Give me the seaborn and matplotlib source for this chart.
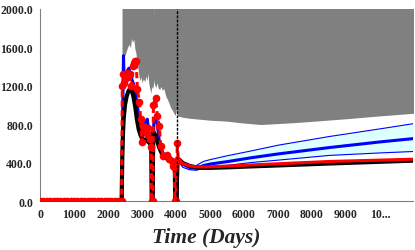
import numpy as np
import pandas as pd
import matplotlib
matplotlib.use("Agg")
import matplotlib.pyplot as plt
import seaborn as sns

# observed rate (red, with markers), history period
obs_days = [0, 100, 200, 300, 400, 500, 600, 700, 800, 900, 1000, 1100, 1200,
            1300, 1400, 1500, 1600, 1700, 1800, 1900, 2000, 2100, 2200, 2300,
            2380, 2402, 2420, 2450, 2480, 2510, 2550, 2600, 2640, 2690, 2740,
            2765, 2800, 2830, 2863, 2922, 2960, 2990, 3040, 3090, 3140, 3186,
            3235, 3270, 3284, 3320, 3335, 3400, 3451, 3510, 3549, 3627, 3725,
            3804, 3873, 3922, 3950, 3970, 4000, 4040, 4070]
obs_rate = [0, 0, 0, 0, 0, 0, 0, 0, 0, 0, 0, 0, 0,
            0, 0, 0, 0, 0, 0, 0, 0, 0, 0, 0,
            0, 0, 1195, 1316, 1230, 1264, 1330, 1290, 1320, 1195, 1400,
            1437, 1455, 1450, 1160, 1025, 850, 610, 780, 740, 700, 760,
            642, 560, 0, 0, 1000, 1075, 884, 780, 573, 470, 480,
            435, 418, 366, 350, 0, 0, 608, 418]

# prediction of the base case (red, no markers)
pred_days = [4070, 4100, 4200, 4400, 4600, 5000, 6200, 8500, 11000]
pred_rate = [418, 420, 390, 365, 355, 355, 375, 411, 435]

# simulation: history match (black) and ensemble mean (thick blue)
sim_days = [0, 2400, 2420, 2440, 2460, 2500, 2550, 2600, 2650, 2700, 2750,
            2800, 2850, 2900, 2950, 3000, 3050, 3140, 3200, 3270, 3285, 3310,
            3330, 3400, 3500, 3600, 3700, 3800, 3900, 3965, 3975, 4015, 4040,
            4100, 4200, 4400, 4600, 4800, 5000, 5500, 6200, 7000, 8500, 10000,
            11000]
sim_black = [0, 0, 450, 700, 850, 1000, 1090, 1140, 1170, 1150, 1080,
             980, 850, 750, 690, 650, 640, 630, 610, 580, 0, 0,
             720, 680, 560, 480, 450, 420, 400, 390, 0, 0, 440,
             430, 395, 365, 350, 345, 345, 350, 360, 370, 390, 408,
             420]
sim_mean = [0, 0, 1000, 1510, 1250, 1300, 1350, 1380, 1300, 1250, 1200,
            1100, 1000, 820, 700, 680, 800, 850, 680, 600, 0, 0,
            800, 900, 600, 500, 460, 430, 410, 400, 0, 0, 440,
            420, 380, 345, 340, 370, 385, 410, 450, 490, 556, 615,
            650]

# ensemble band (light cyan between thin blue lines)
band_days = [4040, 4100, 4200, 4400, 4600, 4800, 5000, 5500, 6200, 7000,
             8500, 10000, 11000]
band_lo = [430, 400, 350, 325, 320, 340, 350, 370, 400, 425, 474, 500, 515]
band_hi = [450, 430, 390, 360, 370, 411, 430, 470, 520, 580, 670, 750, 805]

# outer envelope (grey)
env_days = [2412, 2440, 2470, 2500, 2540, 2580, 2620, 2660, 2690, 2720, 2760,
            2790, 2820, 2850, 2880, 2910, 2940, 2970, 3000, 3040, 3080, 3120,
            3150, 3176, 3200, 3230, 3260, 3290, 3320, 3345, 3353, 3361, 3380,
            3410, 3440, 3480, 3520, 3560, 3600, 3640, 3670, 3700, 3740, 3780,
            3820, 3860, 3900, 3940, 3980, 4010, 4030, 4060, 4100, 4200, 4400,
            4700, 5000, 5500, 6000, 6500, 7000, 7500, 8000, 9000, 10000, 11000]
env_lo = [1500, 1480, 1530, 1510, 1560, 1600, 1630, 1590, 1690, 1650, 1680,
          1580, 1540, 1450, 1380, 1300, 1250, 1290, 1230, 1270, 1240, 1300,
          1250, 1330, 1220, 1170, 1120, 1190, 1170, 1240, 1260, 1220, 1200,
          1180, 1230, 1170, 1160, 1190, 1150, 1170, 1130, 1090, 1060, 1030,
          990, 960, 940, 910, 890, 960, 900, 880, 880, 870, 860,
          850, 840, 830, 810, 795, 805, 815, 828, 855, 885, 912]
env_hi = [2500] * 30 + [1860] + [2500] * 35

history_end = 4020

xticks = [0, 1000, 2000, 3000, 4000, 5000, 6000, 7000, 8000, 9000, 10000]
xtick_labels = ["0", "1000", "2000", "3000", "4000", "5000", "6000", "7000",
                "8000", "9000", "10..."]
yticks = [0, 400, 800, 1200, 1600, 2000]

sns.set_style("white")
plt.rcParams["font.family"] = ["Liberation Serif", "DejaVu Serif"]

fig = plt.figure(figsize=(4.15, 2.51), dpi=100)
ax = fig.add_axes([0.0964, 0.195, 0.8988, 0.767])

ax.fill_between(env_days, env_lo, env_hi, color="#808080", lw=0, zorder=1)
ax.fill_between(band_days, band_lo, band_hi, color="#dcffff", lw=0, zorder=2)

sns.lineplot(x=band_days, y=band_lo, color="#0000ff", lw=0.8, ax=ax,
             estimator=None, sort=False, zorder=3)
sns.lineplot(x=band_days, y=band_hi, color="#0000ff", lw=0.8, ax=ax,
             estimator=None, sort=False, zorder=3)
sns.lineplot(x=[d + 15 for d in sim_days], y=sim_mean, color="#0000ff", lw=2.2,
             ax=ax, estimator=None, sort=False, zorder=4)
sns.lineplot(x=sim_days, y=sim_black, color="black", lw=3.0, ax=ax,
             estimator=None, sort=False, zorder=5)
sns.lineplot(x=pred_days, y=pred_rate, color="#ff0000", lw=2.2, ax=ax,
             estimator=None, sort=False, zorder=6)
sns.lineplot(x=obs_days, y=obs_rate, color="#ff0000", lw=2.2, ax=ax,
             estimator=None, sort=False, zorder=7, linestyle=(0, (2.0, 1.2)),
             marker="o", markersize=5.5, markeredgewidth=0)

ax.axvline(history_end, color="black", lw=1.0, linestyle=(0, (2, 1)), zorder=8)

ax.set_xlim(0, 10970)
ax.set_ylim(0, 2000)
ax.set_xticks(xticks)
ax.set_xticklabels(xtick_labels)
ax.set_yticks(yticks)
ax.set_yticklabels([f"{v:.1f}" for v in yticks])

for side in ["top", "right"]:
    ax.spines[side].set_visible(False)
for side in ["left", "bottom"]:
    ax.spines[side].set_color("#808080")
    ax.spines[side].set_linewidth(0.8)

ax.tick_params(axis="both", which="major", direction="out", length=3,
               width=0.8, color="#808080", labelsize=8.5, pad=2)
for lab in ax.get_xticklabels() + ax.get_yticklabels():
    lab.set_fontweight("bold")

ax.set_xlabel("Time (Days)", fontsize=15.5, fontweight="bold", style="italic")
ax.xaxis.set_label_coords(0.445, -0.135)
ax.set_ylabel("")

fig.savefig("out.png", dpi=100)
